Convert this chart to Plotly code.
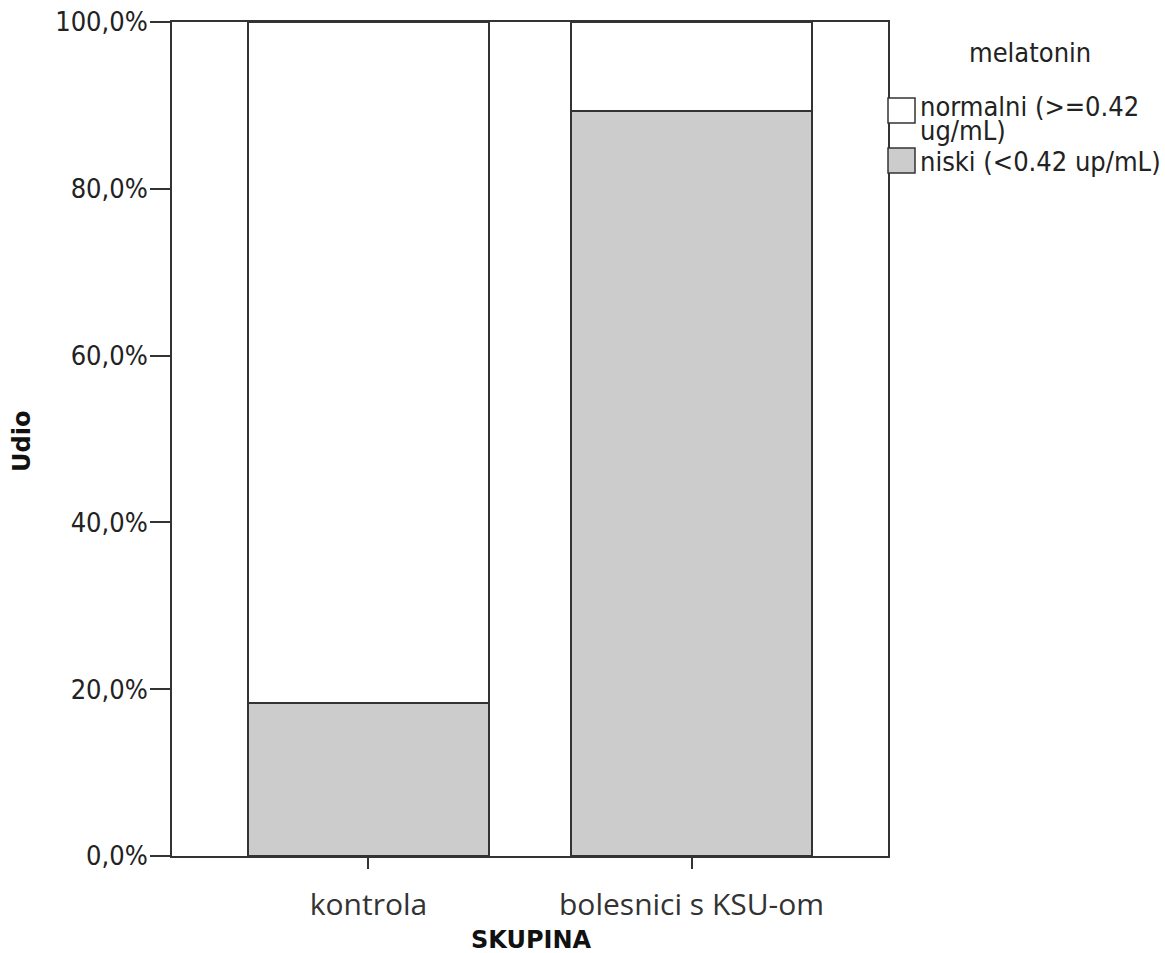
import plotly.graph_objects as go

categories = ["kontrola", "bolesnici s KSU-om"]
niski = [0.183, 0.893]
normalni = [0.817, 0.107]
legend_title = "melatonin"
legend_normalni = ["normalni (>=0.42", "ug/mL)"]
legend_niski = "niski (<0.42 up/mL)"
y_ticks = [0, 0.2, 0.4, 0.6, 0.8, 1.0]

W, H = 1165, 953
L, R, T, B = 172, 888, 22, 856

def px(x):
    return (x - L) / (R - L)

def py(y):
    return (B - y) / (B - T)

LINE = "#333333"
GRAY = "#cccccc"
LFONT = dict(family="DejaVu Sans Condensed, DejaVu Sans", size=27, color="#222")

fig = go.Figure()
fig.add_trace(go.Bar(x=categories, y=niski, name=legend_niski, width=0.746,
                     marker=dict(color=GRAY, line=dict(color=LINE, width=2)),
                     showlegend=False))
fig.add_trace(go.Bar(x=categories, y=normalni, name=" ".join(legend_normalni), width=0.746,
                     marker=dict(color="white", line=dict(color=LINE, width=2)),
                     showlegend=False))

# legend drawn manually
fig.add_annotation(x=px(1030), y=py(53), xref="paper", yref="paper", text=legend_title,
                   showarrow=False, xanchor="center", yanchor="middle", font=LFONT)
fig.add_shape(type="rect", xref="paper", yref="paper", x0=px(888), x1=px(915), y0=py(123), y1=py(98),
              fillcolor="white", line=dict(color=LINE, width=1.5))
fig.add_shape(type="rect", xref="paper", yref="paper", x0=px(888), x1=px(915), y0=py(173), y1=py(148),
              fillcolor=GRAY, line=dict(color=LINE, width=1.5))
fig.add_annotation(x=px(918), y=py(106), xref="paper", yref="paper", text=legend_normalni[0],
                   showarrow=False, xanchor="left", yanchor="middle", font=LFONT)
fig.add_annotation(x=px(918), y=py(131), xref="paper", yref="paper", text=legend_normalni[1],
                   showarrow=False, xanchor="left", yanchor="middle", font=LFONT)
fig.add_annotation(x=px(918), y=py(162), xref="paper", yref="paper", text=legend_niski,
                   showarrow=False, xanchor="left", yanchor="middle", font=LFONT)

# axis titles
fig.add_annotation(x=px(531), y=py(940), xref="paper", yref="paper", text="<b>SKUPINA</b>",
                   showarrow=False, xanchor="center", yanchor="middle",
                   font=dict(family="DejaVu Sans", size=24, color="#111"))
fig.add_annotation(x=px(22), y=py(442), xref="paper", yref="paper", text="<b>Udio</b>",
                   showarrow=False, xanchor="center", yanchor="middle", textangle=-90,
                   font=dict(family="DejaVu Sans", size=24, color="#111"))

fig.update_layout(
    width=W, height=H,
    margin=dict(l=L, r=W - R, t=T, b=H - B, pad=0, autoexpand=False),
    barmode="stack",
    separators=",.",
    plot_bgcolor="white", paper_bgcolor="white",
    showlegend=False,
)
fig.update_xaxes(range=[-0.608, 1.608], showline=True, linecolor=LINE, linewidth=1.6, mirror=True,
                 ticks="outside", ticklen=11, tickcolor=LINE, tickwidth=1.6, showgrid=False,
                 automargin=False, ticklabelstandoff=10,
                 tickfont=dict(family="Open Sans", size=30, color="#333"))
fig.update_yaxes(range=[0, 1], tickvals=y_ticks, tickformat=".1%", showline=True, linecolor=LINE,
                 linewidth=1.6, mirror=True, ticks="outside", ticklen=20, tickcolor=LINE, tickwidth=1.6,
                 showgrid=False, zeroline=False, automargin=False, ticklabelstandoff=-3,
                 tickfont=dict(family="DejaVu Sans Condensed, DejaVu Sans", size=27, color="#222"))

fig.write_html("out.html", config={"displayModeBar": False})
with open("out.html", "r", encoding="utf-8") as f:
    html = f.read()
html = html.replace("<body>", '<body style="margin:0;padding:0;overflow:hidden">', 1)
with open("out.html", "w", encoding="utf-8") as f:
    f.write(html)
